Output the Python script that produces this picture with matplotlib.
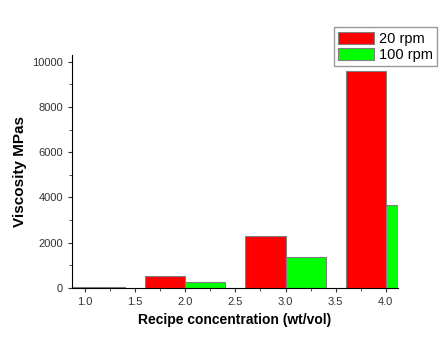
import matplotlib
matplotlib.use('Agg')
import matplotlib.pyplot as plt
from matplotlib.ticker import MultipleLocator

conc = [1.0, 2.0, 3.0, 4.0]
rpm20 = [60, 530, 2315, 9570]
rpm100 = [40, 240, 1360, 3660]
labels = ['20 rpm', '100 rpm']

plt.rcParams['font.family'] = ['Liberation Sans', 'DejaVu Sans']

fig = plt.figure(figsize=(4.47, 3.59), dpi=100)
ax = fig.add_axes([0.161, 0.198, 0.729, 0.649])

w = 0.4
ax.bar([c - w for c in conc], rpm20, width=w, align='edge', color='#ff0000',
       edgecolor='#808080', linewidth=0.8, label=labels[0])
ax.bar(conc, rpm100, width=w, align='edge', color='#00ff00',
       edgecolor='#808080', linewidth=0.8, label=labels[1])

ax.set_xlim(0.87, 4.12)
ax.set_ylim(0, 10300)
ax.xaxis.set_major_locator(MultipleLocator(0.5))
ax.xaxis.set_minor_locator(MultipleLocator(0.25))
ax.yaxis.set_major_locator(MultipleLocator(2000))
ax.yaxis.set_minor_locator(MultipleLocator(1000))
ax.xaxis.set_major_formatter(matplotlib.ticker.FormatStrFormatter('%.1f'))

for s in ['top', 'right']:
    ax.spines[s].set_visible(False)
ax.tick_params(which='major', length=3, width=0.8, labelsize=8, colors='#333333')
ax.tick_params(which='minor', length=2, width=0.6, colors='#333333')

ax.set_xlabel('Recipe concentration (wt/vol)', fontsize=10, fontweight='bold')
ax.set_ylabel('Viscosity MPas', fontsize=11, fontweight='bold')

ax.legend(loc='upper right', bbox_to_anchor=(1.143, 1.15), fontsize=10.5,
          frameon=True, fancybox=False, edgecolor='#808080', handlelength=2.5,
          handleheight=0.9, borderpad=0.3, labelspacing=0.15, handletextpad=0.3)

fig.savefig('out.png', dpi=100)
